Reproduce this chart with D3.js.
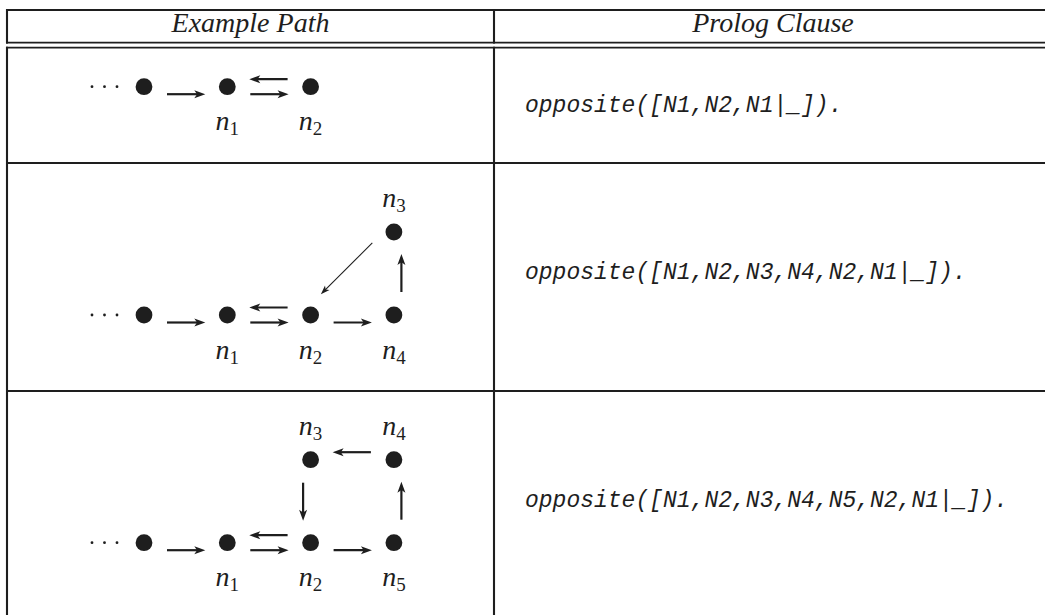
<!DOCTYPE html>
<html>
<head>
<meta charset="utf-8">
<script src="https://cdn.jsdelivr.net/npm/d3@7"></script>
<style>
  html, body { margin: 0; padding: 0; background: #ffffff; }
  svg { display: block; }
</style>
</head>
<body>
<svg id="chart" width="1045" height="615"></svg>
<script>
// ---------------- data ----------------
const headers = ["Example Path", "Prolog Clause"];
const clauses = [
  "opposite([N1,N2,N1|_]).",
  "opposite([N1,N2,N3,N4,N2,N1|_]).",
  "opposite([N1,N2,N3,N4,N5,N2,N1|_])."
];
// nodes: grid column, level (0 = lower, 1 = upper), subscript label
const row1Nodes = [
  { id: "s",  col: 0, lev: 0, sub: null },
  { id: "n1", col: 1, lev: 0, sub: "1" },
  { id: "n2", col: 2, lev: 0, sub: "2" }
];
const row1Edges = [["s", "n1"], ["n1", "n2"], ["n2", "n1"]];

const row2Nodes = [
  { id: "s",  col: 0, lev: 0, sub: null },
  { id: "n1", col: 1, lev: 0, sub: "1" },
  { id: "n2", col: 2, lev: 0, sub: "2" },
  { id: "n3", col: 3, lev: 1, sub: "3" },
  { id: "n4", col: 3, lev: 0, sub: "4" }
];
const row2Edges = [["s", "n1"], ["n1", "n2"], ["n2", "n1"], ["n2", "n4"], ["n4", "n3"], ["n3", "n2"]];

const row3Nodes = [
  { id: "s",  col: 0, lev: 0, sub: null },
  { id: "n1", col: 1, lev: 0, sub: "1" },
  { id: "n2", col: 2, lev: 0, sub: "2" },
  { id: "n3", col: 2, lev: 1, sub: "3" },
  { id: "n4", col: 3, lev: 1, sub: "4" },
  { id: "n5", col: 3, lev: 0, sub: "5" }
];
const row3Edges = [["s", "n1"], ["n1", "n2"], ["n2", "n1"], ["n2", "n5"], ["n5", "n4"], ["n4", "n3"], ["n3", "n2"]];

const rows = [
  { nodes: row1Nodes, edges: row1Edges, clause: clauses[0] },
  { nodes: row2Nodes, edges: row2Edges, clause: clauses[1] },
  { nodes: row3Nodes, edges: row3Edges, clause: clauses[2] }
];

// ---------------- layout ----------------
const svg = d3.select("#chart");
const ink = "#1e1e1e";
const tableLeft = 7, colDiv = 494, tableRight = 1052;
const headTop = 10, headBot1 = 42.7, headBot2 = 47.7, tableBottom = 640;
const rowSeps = [163, 391];
const rowLayout = [
  { baseY: 86.7, textY: 112 },
  { baseY: 315,  textY: 279 },
  { baseY: 542.7, textY: 507 }
];
const xGrid = d3.scaleLinear().domain([0, 1]).range([144, 227.3]);
const levelStep = 83;

// table lines
const g = svg.append("g");
const hLines = [headTop, headBot1, headBot2, ...rowSeps];
g.selectAll("line.h").data(hLines).join("line")
  .attr("x1", tableLeft - 1).attr("x2", tableRight)
  .attr("y1", d => d).attr("y2", d => d)
  .attr("stroke", ink).attr("stroke-width", 1.8);
const vSegs = [];
[tableLeft, colDiv].forEach(x => {
  vSegs.push({ x, y1: headTop - 0.9, y2: headBot1 + 0.9 });
  vSegs.push({ x, y1: headBot2 - 0.9, y2: tableBottom });
});
g.selectAll("line.v").data(vSegs).join("line")
  .attr("x1", d => d.x).attr("x2", d => d.x)
  .attr("y1", d => d.y1).attr("y2", d => d.y2)
  .attr("stroke", ink).attr("stroke-width", 2.1);

// headers
const headerX = [ (tableLeft + colDiv) / 2, 773 ];
svg.selectAll("text.hdr").data(headers).join("text")
  .attr("x", (d, i) => headerX[i]).attr("y", 32)
  .attr("text-anchor", "middle")
  .attr("font-family", "'Liberation Serif', 'Times New Roman', serif")
  .attr("font-style", "italic").attr("font-size", 28)
  .attr("fill", ink).text(d => d);

// rows
rows.forEach((row, ri) => {
  const L = rowLayout[ri];
  const yLev = d3.scaleLinear().domain([0, 1]).range([L.baseY, L.baseY - levelStep]);
  const pos = {};
  row.nodes.forEach(n => { pos[n.id] = { x: xGrid(n.col), y: yLev(n.lev), n }; });
  const rg = svg.append("g");

  // ellipsis before first node
  const first = pos["s"];
  rg.selectAll("circle.dots").data(d3.range(3)).join("circle")
    .attr("cx", i => first.x - 52 + i * 12.5).attr("cy", first.y)
    .attr("r", 1.4).attr("fill", ink);

  // nodes
  rg.selectAll("circle.node").data(row.nodes).join("circle")
    .attr("cx", d => pos[d.id].x).attr("cy", d => pos[d.id].y)
    .attr("r", 8.4).attr("fill", ink);

  // labels
  const lab = rg.selectAll("text.lab").data(row.nodes.filter(d => d.sub)).join("text")
    .attr("x", d => pos[d.id].x).attr("y", d => d.lev === 1 ? pos[d.id].y - 25 : pos[d.id].y + 43.5)
    .attr("text-anchor", "middle")
    .attr("font-family", "'Liberation Serif', 'Times New Roman', serif")
    .attr("fill", ink);
  lab.append("tspan").attr("font-style", "italic").attr("font-size", 28).text("n");
  lab.append("tspan").attr("font-size", 19).attr("dy", 5).text(d => d.sub);

  // edges
  row.edges.forEach(([a, b]) => {
    const p = pos[a], q = pos[b];
    const dx = q.x - p.x, dy = q.y - p.y, len = Math.hypot(dx, dy);
    const ux = dx / len, uy = dy / len;
    const rx = -uy, ry = ux;
    const diag = Math.abs(dx) > 1 && Math.abs(dy) > 1;
    const off = 7.5;
    const sx = p.x + ux * 23 + rx * off, sy = p.y + uy * 23 + ry * off;
    const ex = q.x - ux * 22 + rx * off, ey = q.y - uy * 22 + ry * off;
    const hl = diag ? 9 : 11, hw = diag ? 3.2 : 4;
    rg.append("line")
      .attr("x1", sx).attr("y1", sy)
      .attr("x2", ex - ux * hl * 0.6).attr("y2", ey - uy * hl * 0.6)
      .attr("stroke", ink).attr("stroke-width", diag ? 1.1 : 2.2);
    const bx = ex - ux * hl, by = ey - uy * hl;
    const mx = ex - ux * hl * 0.75, my = ey - uy * hl * 0.75;
    rg.append("path")
      .attr("d", `M${ex},${ey}L${bx + rx * hw},${by + ry * hw}L${mx},${my}L${bx - rx * hw},${by - ry * hw}Z`)
      .attr("fill", ink);
  });

  // clause
  svg.append("text")
    .attr("x", 525).attr("y", L.textY)
    .attr("font-family", "'Liberation Mono', 'DejaVu Sans Mono', monospace")
    .attr("font-style", "italic").attr("font-size", 23)
    .attr("fill", ink).text(row.clause);
});
</script>
</body>
</html>
